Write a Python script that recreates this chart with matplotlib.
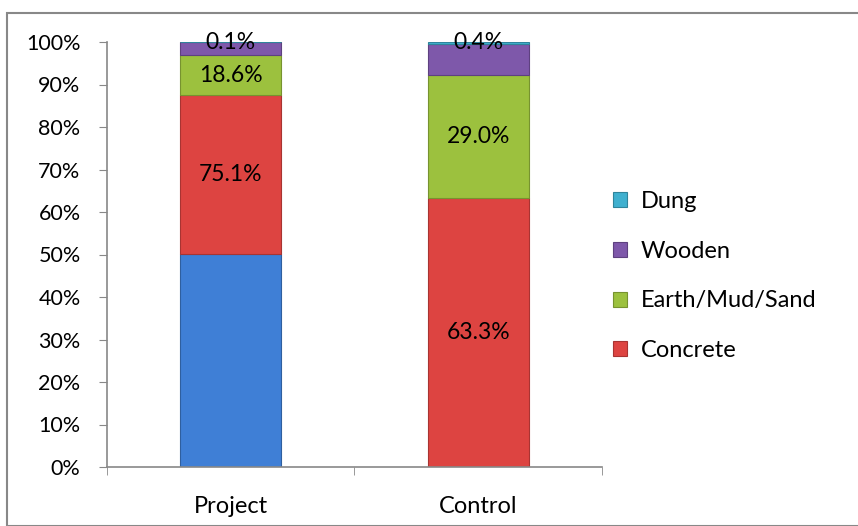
import matplotlib
matplotlib.use("Agg")
import matplotlib.pyplot as plt
from matplotlib.patches import Rectangle
import numpy as np

plt.rcParams['font.family'] = ['Lato', 'DejaVu Sans']

categories = ["Project", "Control"]
base = [100.0, 0.0]          # unlabeled blue series (not in legend)
concrete = [75.1, 63.3]
earth = [18.6, 29.0]
wooden = [6.2, 7.3]
dung = [0.1, 0.4]
series_names = ["Concrete", "Earth/Mud/Sand", "Wooden", "Dung"]
label_flags = {"Concrete": True, "Earth/Mud/Sand": True, "Wooden": False, "Dung": True}

colors = {"base": "#3F7FD6", "Concrete": "#DD4441", "Earth/Mud/Sand": "#9CC13E",
          "Wooden": "#7E58AA", "Dung": "#3FB0CF"}
edge = {"base": "#2F5F9F", "Concrete": "#A83432", "Earth/Mud/Sand": "#77932F",
        "Wooden": "#5E4180", "Dung": "#2F849B"}

data = {"base": base, "Concrete": concrete, "Earth/Mud/Sand": earth,
        "Wooden": wooden, "Dung": dung}
totals = np.sum([data[k] for k in data], axis=0)

fig = plt.figure(figsize=(8.58, 5.26), dpi=100)
ax = fig.add_axes([107/858, 1-467/526, (602-107)/858, (467-42)/526])

x = np.arange(len(categories))
bottom = np.zeros(len(categories))
width = 0.41
order = ["base"] + series_names
handles = {}
for key in order:
    vals = np.array(data[key]) / totals * 100
    b = ax.bar(x, vals, width, bottom=bottom, color=colors[key],
               edgecolor=edge[key], linewidth=0.8)
    handles[key] = b
    if key != "base" and label_flags[key]:
        for i, v in enumerate(vals):
            if data[key][i] > 0:
                ax.text(x[i], bottom[i] + v/2, f"{data[key][i]:.1f}%",
                        ha="center", va="center", fontsize=16.5, color="black")
    bottom += vals

ax.set_xlim(-0.5, 1.5)
ax.set_ylim(0, 100)
ax.set_yticks(np.arange(0, 101, 10))
ax.set_yticklabels([f"{v}%" for v in range(0, 101, 10)], fontsize=15.5)
ax.set_xticks(x)
ax.set_xticklabels(categories, fontsize=17)
ax.set_xticks([-0.5, 0.5, 1.5], minor=True)
ax.tick_params(axis="x", which="major", length=0, pad=21)
ax.tick_params(axis="x", which="minor", length=6, direction="out", color="#888888")
ax.tick_params(axis="y", length=6, direction="out", color="#888888", pad=13)
for s in ["top", "right"]:
    ax.spines[s].set_visible(False)
for s in ["left", "bottom"]:
    ax.spines[s].set_color("#888888")
    ax.spines[s].set_linewidth(1.2)

leg_keys = ["Dung", "Wooden", "Earth/Mud/Sand", "Concrete"]
ax.legend([handles[k] for k in leg_keys], leg_keys, loc="center left",
          bbox_to_anchor=(592/858, 1-276/526), bbox_transform=fig.transFigure,
          frameon=False, fontsize=17, labelspacing=1.22, handlelength=0.6,
          handleheight=0.6, handletextpad=0.55)

fig.patches.append(Rectangle((7/858, 0), 1.0, 1-13/526, transform=fig.transFigure,
                             fill=False, edgecolor="#888888", linewidth=1.5))

fig.savefig("out.png", dpi=100)
